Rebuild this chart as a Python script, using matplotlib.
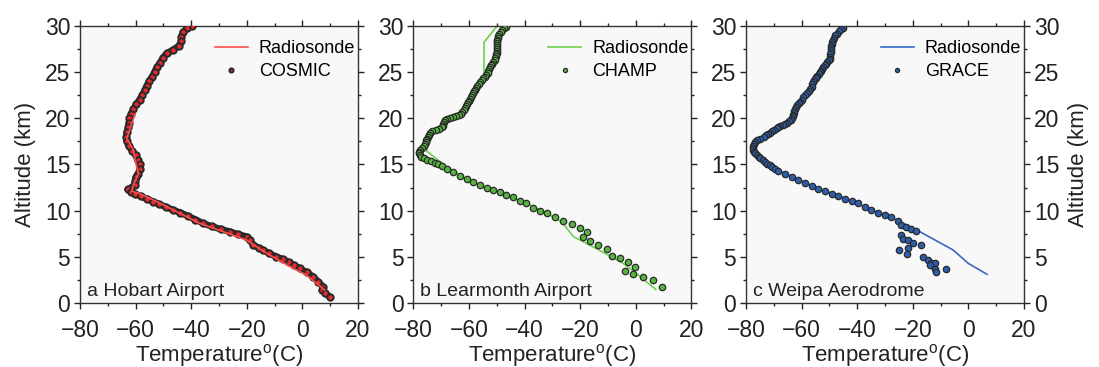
import matplotlib
matplotlib.use("Agg")
import matplotlib.pyplot as plt
from matplotlib.ticker import MultipleLocator

plt.rcParams['font.family'] = ['Liberation Sans', 'DejaVu Sans']
plt.rcParams['mathtext.fontset'] = 'custom'
plt.rcParams['mathtext.rm'] = 'Liberation Sans'

# ---------------- Panel a: Hobart Airport (COSMIC) ----------------
a_ro_temp = [-39.8, -41.5, -43.0, -43.6, -43.6, -44.5, -46.5, -48.8, -50.3, -51.2,
             -52.4, -53.2, -54.0, -55.2, -56.0, -56.8, -57.6, -58.6, -59.8, -60.8,
             -61.6, -62.2, -62.4, -62.6, -63.2, -63.4, -63.2, -62.5, -61.2, -60.0,
             -59.3, -58.6, -58.4, -59.2, -60.0, -60.2, -60.4, -61.6, -62.9, -61.5,
             -60.2, -58.0, -55.8, -53.7, -51.5, -49.0, -46.5, -44.0, -41.3, -38.5,
             -35.7, -32.5, -29.3, -26.1, -23.0, -20.1, -18.8, -17.7, -15.8, -14.2,
             -12.0, -9.5, -7.0, -5.0, -3.0, -1.0, 1.5, 3.8, 5.6, 7.4,
             7.0, 8.0, 9.8]
a_ro_alt = [30.0, 29.7, 29.3, 28.8, 28.3, 27.8, 27.4, 27.0, 26.5, 26.0,
            25.5, 25.0, 24.5, 24.0, 23.5, 23.0, 22.5, 22.0, 21.5, 21.0,
            20.5, 20.0, 19.5, 19.0, 18.5, 18.0, 17.5, 17.0, 16.5, 16.0,
            15.5, 15.0, 14.5, 14.0, 13.6, 13.2, 12.8, 12.5, 12.3, 12.0,
            11.8, 11.55, 11.25, 11.0, 10.7, 10.4, 10.08, 9.8, 9.45, 9.05,
            8.64, 8.3, 8.0, 7.74, 7.45, 7.2, 6.8, 6.3, 6.0, 5.76,
            5.4, 5.05, 4.75, 4.45, 4.1, 3.78, 3.35, 2.88, 2.35, 1.8,
            1.4, 1.15, 0.7]
a_rs_temp = [-60.2, -61.4, -63.2, -60.8, -60.2, -59.0, -60.8, -61.4, -59.0, -52.5,
             -36.9, -20.1, -12.9, -3.4, 1.4, 8.0]
a_rs_alt = [20.5, 19.4, 17.8, 16.6, 15.5, 14.0, 12.8, 12.1, 11.9, 11.0,
            8.64, 6.84, 5.4, 3.8, 3.06, 1.44]

# ---------------- Panel b: Learmonth Airport (CHAMP) ----------------
b_ro_temp = [-46.6, -47.4, -48.0, -48.6, -49.1, -49.4, -49.6, -49.8, -49.9, -49.9,
             -49.8, -49.8, -49.8, -49.9, -49.9, -50.1, -50.3, -50.5, -50.8, -51.2,
             -51.6, -51.9, -52.3, -52.7, -53.0, -53.3, -53.7, -54.2, -54.8, -55.4,
             -56.0, -56.5, -57.0, -57.5, -57.9, -58.3, -58.6, -59.0, -59.3, -59.7,
             -60.0, -60.3, -60.6, -60.9, -61.3, -61.8, -62.4, -63.0, -63.6, -64.6,
             -65.6, -66.8, -67.8, -68.6, -69.0, -69.3, -69.5, -69.8, -70.8, -72.0,
             -73.2, -74.0, -74.4, -74.8, -75.2, -75.5, -75.6, -75.8, -76.2, -77.0,
             -77.5, -77.8, -77.9, -77.7, -77.1, -76.2, -75.0, -73.6, -72.2, -71.0,
             -69.8, -68.0, -65.6, -63.2, -60.8, -58.4, -56.0, -53.6, -51.3, -48.9,
             -46.5, -44.1, -41.7, -39.3, -36.9, -34.5, -32.1, -29.1, -26.1, -23.1,
             -20.1, -17.7, -18.9, -16.5, -13.5, -10.5, -8.7, -5.7, -2.8, -0.4,
             -4.0, -1.0, 2.6, 6.2, 9.6]
b_ro_alt = [29.9, 29.7, 29.5, 29.3, 29.1, 28.9, 28.7, 28.5, 28.3, 28.1,
            27.9, 27.7, 27.5, 27.3, 27.1, 26.9, 26.7, 26.5, 26.3, 26.1,
            25.9, 25.7, 25.5, 25.3, 25.1, 24.9, 24.7, 24.5, 24.3, 24.1,
            23.9, 23.7, 23.5, 23.3, 23.1, 22.9, 22.7, 22.5, 22.3, 22.1,
            21.9, 21.7, 21.5, 21.3, 21.1, 20.9, 20.7, 20.5, 20.35, 20.25,
            20.15, 20.05, 19.95, 19.8, 19.6, 19.4, 19.2, 19.0, 18.85, 18.75,
            18.6, 18.4, 18.2, 18.0, 17.8, 17.6, 17.4, 17.2, 17.0, 16.8,
            16.6, 16.4, 16.2, 16.0, 15.8, 15.65, 15.5, 15.35, 15.2, 15.05,
            14.85, 14.5, 14.2, 13.76, 13.4, 13.07, 12.78, 12.5, 12.24, 12.0,
            11.7, 11.46, 11.1, 10.8, 10.27, 9.98, 9.73, 9.36, 8.93, 8.57,
            8.1, 7.74, 7.13, 6.77, 6.3, 5.84, 5.1, 4.86, 4.5, 3.96,
            3.5, 3.17, 2.88, 2.52, 1.8]
b_rs_temp = [-49.8, -54.6, -54.6, -56.0, -59.0, -63.2, -69.2, -74.6, -75.2, -68.0,
             -60.8, -50.0, -39.3, -32.1, -26.6, -22.4, -13.5, -4.5, 0.3, 7.2]
b_rs_alt = [30.0, 28.2, 24.8, 23.9, 22.5, 20.35, 19.4, 18.5, 16.45, 14.75,
            13.4, 12.0, 10.8, 9.73, 8.8, 7.2, 5.8, 4.3, 3.2, 1.5]

# ---------------- Panel c: Weipa Aerodrome (GRACE) ----------------
c_ro_temp = [-45.0, -45.8, -46.7, -47.4, -48.0, -48.5, -48.8, -49.0, -49.2, -49.3,
             -49.4, -49.5, -49.6, -49.7, -49.8, -49.9, -50.3, -50.9, -51.3, -51.6,
             -52.2, -52.7, -53.0, -53.4, -53.9, -54.4, -54.7, -55.0, -55.4, -55.8,
             -56.1, -56.4, -56.9, -57.5, -58.2, -58.9, -59.5, -60.0, -60.6, -61.1,
             -61.5, -62.0, -62.4, -62.6, -62.8, -63.0, -63.2, -63.4, -63.8, -64.6,
             -65.4, -66.0, -66.8, -67.6, -68.4, -69.0, -69.8, -70.6, -71.3, -72.0,
             -72.8, -73.6, -75.0, -76.0, -76.8, -77.3, -77.6, -77.6, -77.4, -77.0,
             -76.6, -76.0, -75.4, -74.8, -74.0, -73.2, -72.3, -71.4, -70.6, -69.5,
             -68.4, -66.0, -63.6, -61.2, -58.8, -56.4, -54.0, -51.6, -49.2, -46.8,
             -44.4, -42.0, -39.7, -37.3, -34.9, -32.5, -30.1, -27.7, -25.5, -24.1,
             -22.3, -20.5, -18.7, -24.1, -23.5, -21.7, -19.9, -21.7, -17.2, -25.0,
             -22.1, -16.3, -14.7, -13.3, -11.9, -13.9, -11.9, -8.2, -11.8]
c_ro_alt = [29.8, 29.6, 29.4, 29.15, 28.95, 28.7, 28.45, 28.25, 28.0, 27.8,
            27.6, 27.4, 27.15, 26.9, 26.65, 26.45, 26.25, 26.05, 25.85, 25.7,
            25.5, 25.3, 25.15, 25.0, 24.8, 24.6, 24.45, 24.3, 24.1, 23.9,
            23.65, 23.4, 23.2, 22.95, 22.7, 22.5, 22.25, 22.0, 21.8, 21.6,
            21.4, 21.2, 21.0, 20.8, 20.6, 20.4, 20.2, 20.0, 19.8, 19.65,
            19.5, 19.4, 19.3, 19.15, 19.0, 18.9, 18.75, 18.6, 18.45, 18.3,
            18.15, 18.0, 17.8, 17.6, 17.4, 17.2, 17.0, 16.8, 16.55, 16.35,
            16.2, 16.0, 15.85, 15.7, 15.5, 15.3, 15.1, 14.9, 14.7, 14.5,
            14.33, 13.97, 13.69, 13.33, 13.03, 12.71, 12.4, 12.15, 11.86, 11.6,
            11.3, 11.06, 10.8, 10.44, 10.08, 9.8, 9.54, 9.29, 8.93, 8.46,
            8.2, 8.0, 7.8, 7.38, 7.0, 6.84, 6.55, 5.94, 6.3, 5.76,
            5.33, 5.04, 4.68, 4.4, 4.33, 4.1, 3.75, 3.75, 3.35]
c_rs_temp = [-45.0, -49.0, -49.8, -53.4, -58.2, -62.4, -63.6, -69.0, -75.0, -77.4,
             -75.0, -70.8, -63.6, -56.4, -49.2, -42.0, -34.9, -27.7, -17.5, -5.5,
             -0.1, 6.7]
c_rs_alt = [29.8, 28.25, 26.45, 25.0, 22.7, 21.0, 19.8, 18.9, 17.8, 17.1,
            15.85, 14.7, 13.69, 12.71, 11.86, 11.06, 10.08, 9.29, 7.74, 5.76,
            4.32, 3.13]

panels = [
    dict(ro_t=a_ro_temp, ro_z=a_ro_alt, rs_t=a_rs_temp, rs_z=a_rs_alt,
         name='COSMIC', title='a Hobart Airport', line='#ff4d4d', face='#e8282c',
         band=True, line_on_top=True),
    dict(ro_t=b_ro_temp, ro_z=b_ro_alt, rs_t=b_rs_temp, rs_z=b_rs_alt,
         name='CHAMP', title='b Learmonth Airport', line='#6fcf50', face='#55b53f',
         band=False, line_on_top=False),
    dict(ro_t=c_ro_temp, ro_z=c_ro_alt, rs_t=c_rs_temp, rs_z=c_rs_alt,
         name='GRACE', title='c Weipa Aerodrome', line='#3568c4', face='#2a5fb0',
         band=False, line_on_top=False),
]

fig = plt.figure(figsize=(10.99, 3.67), dpi=100)
lefts = [0.0728, 0.3761, 0.6788]
edge = '#2a2a2a'
txt = '#222222'
for i, (p, l) in enumerate(zip(panels, lefts)):
    ax = fig.add_axes([l, 0.1736, 0.2530, 0.7564])
    ax.set_facecolor('#f8f8f8')
    lz = 4 if p['line_on_top'] else 1
    ax.plot(p['rs_t'], p['rs_z'], color=p['line'], lw=1.2, zorder=lz, label='Radiosonde')
    if p['band']:
        ax.plot(p['ro_t'], p['ro_z'], color=edge, lw=4.8, solid_capstyle='round', zorder=2)
        ms, mew = 4.6, 1.4
    else:
        ms, mew = 4.6, 0.9
    ax.plot(p['ro_t'], p['ro_z'], ls='none', marker='o', ms=ms, mfc=p['face'],
            mec=edge, mew=mew, zorder=3, label=p['name'])
    ax.set_xlim(-80, 20)
    ax.set_ylim(0, 30)
    ax.xaxis.set_major_locator(MultipleLocator(20))
    ax.xaxis.set_minor_locator(MultipleLocator(10))
    ax.yaxis.set_major_locator(MultipleLocator(5))
    ax.yaxis.set_minor_locator(MultipleLocator(2.5))
    ax.tick_params(which='both', direction='out', top=True, right=True,
                   labelsize=16.5, colors=txt, width=1.0)
    ax.tick_params(axis='x', which='major', pad=7)
    ax.tick_params(axis='y', which='major', pad=3)
    ax.tick_params(which='major', length=4)
    ax.tick_params(which='minor', length=2.5)
    for s in ax.spines.values():
        s.set_linewidth(1.0)
        s.set_color('#333333')
    ax.set_xlabel('Temperature$^{\\mathregular{o}}$(C)', fontsize=16, labelpad=0, color=txt)
    if i == 0:
        ax.set_ylabel('Altitude (km)', fontsize=16, labelpad=6, color=txt)
    if i == 2:
        ax.tick_params(labelright=True)
        ax.yaxis.set_label_position('right')
        ax.set_ylabel('Altitude (km)', fontsize=16, labelpad=6, color=txt)
    ax.text(0.025, 0.012, p['title'], transform=ax.transAxes, fontsize=14,
            ha='left', va='bottom', color=txt)
    ax.legend(loc='upper right', bbox_to_anchor=(1.042, 1.0), frameon=False,
              fontsize=13, handlelength=1.85, handletextpad=0.6, labelspacing=0.35,
              markerscale=0.65, borderpad=0.3)

fig.savefig('out.png', dpi=100)
